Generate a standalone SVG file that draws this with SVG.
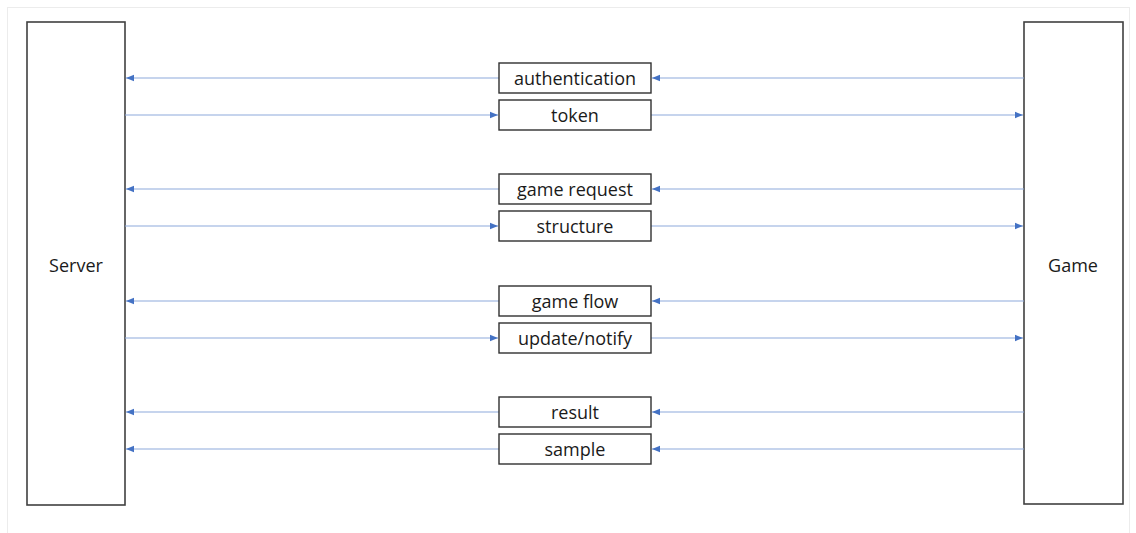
<svg xmlns="http://www.w3.org/2000/svg" width="1136" height="533" viewBox="0 0 1136 533">
  <style>
    .frame { fill: #ffffff; stroke: #ececec; stroke-width: 1; }
    .actor { fill: #ffffff; stroke: #404040; stroke-width: 1.6; }
    .msg { fill: #ffffff; stroke: #303030; stroke-width: 1.4; }
    .lbl { font-family: "Open Sans", "Noto Sans", sans-serif; font-size: 18px; fill: #1a1a1a; text-anchor: middle; dominant-baseline: central; }
    .wire { stroke: #8ea9db; stroke-width: 1.2; fill: none; marker-end: url(#head); }
  </style>
  <defs>
    <marker id="head" viewBox="0 0 10 10" refX="10" refY="5" markerWidth="8" markerHeight="8" markerUnits="userSpaceOnUse" orient="auto">
      <path d="M0,1 L10,5 L0,9 Z" fill="#4472c4"/>
    </marker>
  </defs>

  <rect class="frame" x="7.5" y="7.5" width="1122" height="530"/>

  <g id="server">
    <rect class="actor" x="27" y="22" width="98" height="483"/>
    <text class="lbl" x="76" y="265">Server</text>
  </g>
  <g id="game">
    <rect class="actor" x="1024" y="22" width="99" height="482"/>
    <text class="lbl" x="1073" y="265">Game</text>
  </g>

  <g id="connectors">
    <!-- Game to Server messages -->
    <path class="wire" d="M1024,78 L652,78"/>
    <path class="wire" d="M499,78 L126,78"/>
    <path class="wire" d="M1024,189 L652,189"/>
    <path class="wire" d="M499,189 L126,189"/>
    <path class="wire" d="M1024,301 L652,301"/>
    <path class="wire" d="M499,301 L126,301"/>
    <path class="wire" d="M1024,412 L652,412"/>
    <path class="wire" d="M499,412 L126,412"/>
    <path class="wire" d="M1024,449 L652,449"/>
    <path class="wire" d="M499,449 L126,449"/>
    <!-- Server to Game messages -->
    <path class="wire" d="M125,115 L498,115"/>
    <path class="wire" d="M651,115 L1023,115"/>
    <path class="wire" d="M125,226 L498,226"/>
    <path class="wire" d="M651,226 L1023,226"/>
    <path class="wire" d="M125,338 L498,338"/>
    <path class="wire" d="M651,338 L1023,338"/>
  </g>

  <g id="msg-authentication">
    <rect class="msg" x="499" y="63" width="152" height="30"/>
    <text class="lbl" x="575" y="78">authentication</text>
  </g>
  <g id="msg-token">
    <rect class="msg" x="499" y="100" width="152" height="30"/>
    <text class="lbl" x="575" y="115">token</text>
  </g>
  <g id="msg-game-request">
    <rect class="msg" x="499" y="174" width="152" height="30"/>
    <text class="lbl" x="575" y="189">game request</text>
  </g>
  <g id="msg-structure">
    <rect class="msg" x="499" y="211" width="152" height="30"/>
    <text class="lbl" x="575" y="226">structure</text>
  </g>
  <g id="msg-game-flow">
    <rect class="msg" x="499" y="286" width="152" height="30"/>
    <text class="lbl" x="575" y="301">game flow</text>
  </g>
  <g id="msg-update-notify">
    <rect class="msg" x="499" y="323" width="152" height="30"/>
    <text class="lbl" x="575" y="338">update/notify</text>
  </g>
  <g id="msg-result">
    <rect class="msg" x="499" y="397" width="152" height="30"/>
    <text class="lbl" x="575" y="412">result</text>
  </g>
  <g id="msg-sample">
    <rect class="msg" x="499" y="434" width="152" height="30"/>
    <text class="lbl" x="575" y="449">sample</text>
  </g>
</svg>
